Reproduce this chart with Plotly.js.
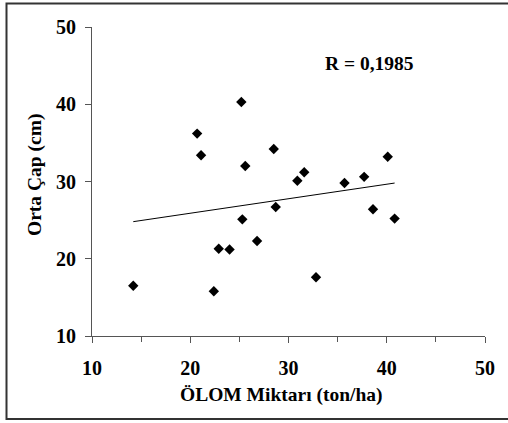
<!DOCTYPE html>
<html>
<head>
<meta charset="utf-8">
<script src="https://cdn.plot.ly/plotly-3.0.1.min.js"></script>
<style>html,body{margin:0;padding:0;background:#fff;}#chart{width:508px;height:423px;}</style>
</head>
<body>
<div id="chart"></div>
<script>
const olomX = [14.2, 20.7, 21.1, 22.4, 22.9, 24.0, 25.2, 25.3, 25.6, 26.8, 28.5, 28.7, 30.9, 31.6, 32.8, 35.7, 37.7, 38.6, 40.1, 40.8];
const ortaCapY = [16.5, 36.2, 33.4, 15.8, 21.3, 21.2, 40.3, 25.1, 32.0, 22.3, 34.2, 26.7, 30.1, 31.2, 17.6, 29.8, 30.6, 26.4, 33.2, 25.2];
const trendX = [14.2, 40.8];
const trendY = [24.8, 29.8];
const tickVals = [10, 20, 30, 40, 50];
const xTitle = 'ÖLOM Miktarı (ton/ha)';
const yTitle = 'Orta Çap (cm)';
const rLabel = 'R = 0,1985';

const fam = '"Liberation Serif", "Times New Roman", serif';
const tickFont = {family: fam, size: 20, color: '#000', weight: 'bold'};
const titleFont = {family: fam, size: 19.5, color: '#000', weight: 'bold'};
const W = 508, H = 423, L = 92, R = 23, T = 27, B = 87;
const pw = W - L - R, ph = H - T - B;
function px(x){ return (x - L) / pw; }
function py(y){ return (H - B - y) / ph; }

const data = [
  {x: trendX, y: trendY, mode: 'lines', line: {color: '#000', width: 1}, hoverinfo: 'skip'},
  {x: olomX, y: ortaCapY, mode: 'markers', marker: {symbol: 'diamond', size: 8, color: '#000'}}
];
const axisBase = {
  range: [10, 50], tickvals: tickVals, ticks: 'outside', ticklen: 6, tickwidth: 1, tickcolor: '#555',
  showline: true, linecolor: '#555', linewidth: 1, showgrid: false, zeroline: false,
  tickfont: tickFont, ticklabelstandoff: 5
};
const layout = {
  width: W, height: H, showlegend: false,
  margin: {l: L, r: R, t: T, b: B},
  paper_bgcolor: '#fff', plot_bgcolor: '#fff',
  xaxis: Object.assign({}, axisBase, {
    minor: {dtick: 5, tick0: 10, ticks: 'outside', ticklen: 5, tickcolor: '#555', showgrid: false},
    ticklabelstandoff: 8
  }),
  yaxis: Object.assign({}, axisBase),
  annotations: [
    {x: 38.2, y: 45.3, xref: 'x', yref: 'y', text: rLabel, showarrow: false, font: titleFont},
    {x: px(281), y: py(395), xref: 'paper', yref: 'paper', text: xTitle, showarrow: false, font: titleFont,
     xanchor: 'center', yanchor: 'middle'},
    {x: px(35), y: py(175), xref: 'paper', yref: 'paper', text: yTitle, showarrow: false, font: titleFont,
     textangle: -90, xanchor: 'center', yanchor: 'middle'}
  ],
  shapes: [{type: 'rect', xref: 'paper', yref: 'paper', x0: px(6.5), x1: px(510), y0: py(419), y1: py(3.5),
            line: {color: '#333', width: 2}, fillcolor: 'rgba(0,0,0,0)', layer: 'below'}]
};
Plotly.newPlot('chart', data, layout, {displayModeBar: false, staticPlot: true});
</script>
</body>
</html>
